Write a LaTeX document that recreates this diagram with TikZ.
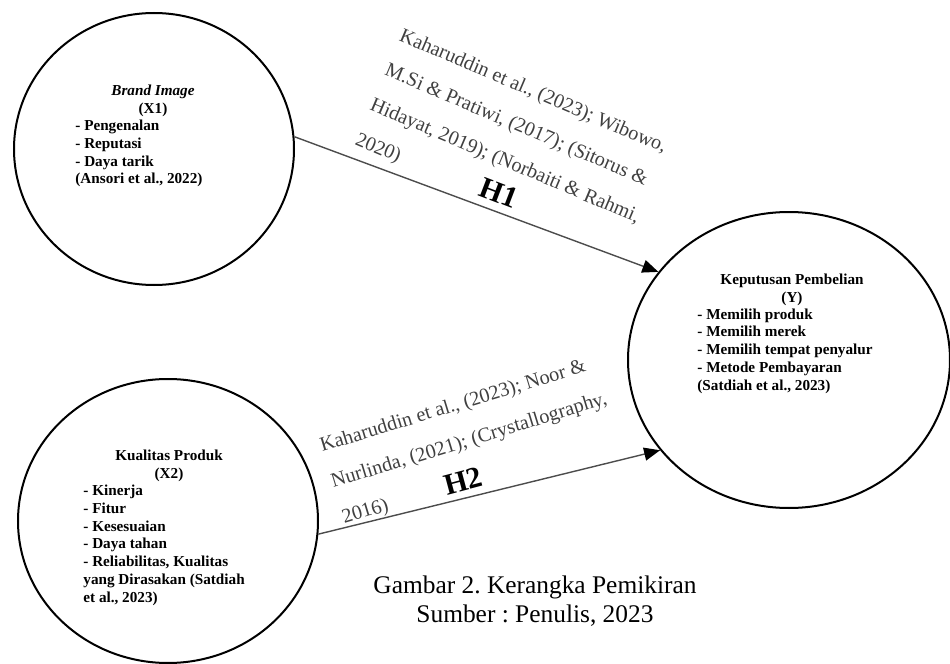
\documentclass[tikz,border=0pt]{standalone}
\usepackage{fontspec}
\setmainfont{Liberation Serif}
\usetikzlibrary{shapes.geometric, arrows.meta}
\frenchspacing

\begin{document}
\begin{tikzpicture}[x=0.5pt, y=-0.5pt,
    variabel/.style={draw, line width=1pt, ellipse, inner sep=0pt},
    isi/.style={font=\fontsize{7.6}{8.85}\selectfont\bfseries, inner sep=0pt},
    sitasi/.style={text=black!75, align=left, inner sep=0pt, anchor=base west, font=\fontsize{10.1}{18.8}\selectfont},
    hipotesis/.style={font=\fontsize{15}{18}\selectfont\bfseries, inner sep=0pt},
    panah/.style={draw=black!70, line width=0.7pt, -{Triangle[length=8pt, width=6.5pt, color=black]}}]

    \useasboundingbox (0,0) rectangle (950,664);

    % variabel
    \node (brand) [variabel, minimum width=140pt, minimum height=136pt] at (154,149) {};
    \node (kualitas) [variabel, minimum width=150pt, minimum height=142pt] at (168,521) {};
    \node (keputusan) [variabel, minimum width=161pt, minimum height=148pt] at (789,360) {};

    % isi lingkaran (base = baris terakhir)
    \node (brand-judul) [isi, align=center, anchor=base] at (153,113) {\textit{Brand Image}\\(X1)};
    \node (brand-isi) [isi, align=left, anchor=base west] at (75,184) {- Pengenalan\\- Reputasi\\- Daya tarik\\(Ansori et al., 2022)};
    \node (kualitas-judul) [isi, align=center, anchor=base] at (169,478) {Kualitas Produk\\(X2)};
    \node (kualitas-isi) [isi, align=left, anchor=base west] at (83,602) {- Kinerja\\- Fitur\\- Kesesuaian\\- Daya tahan\\- Reliabilitas, Kualitas\\yang Dirasakan (Satdiah\\et al., 2023)};
    \node (keputusan-judul) [isi, align=center, anchor=base] at (792,302) {Keputusan Pembelian\\(Y)};
    \node (keputusan-isi) [isi, align=left, anchor=base west] at (697,390) {- Memilih produk\\- Memilih merek\\- Memilih tempat penyalur\\- Metode Pembayaran\\(Satdiah et al., 2023)};

    % hipotesis
    \draw [panah] (brand.5) -- (keputusan.146);
    \draw [panah] (kualitas.-5) -- (keputusan.215);
    \node (sitasi1) [sitasi, rotate=-23] at (354,144) {Kaharuddin et al., (2023); Wibowo,\\M.Si \& Pratiwi, (2017); (Sitorus \&\\Hidayat, 2019); (Norbaiti \& Rahmi,\\2020)};
    \node (h1) [hipotesis, rotate=-21] at (499,193) {H1};
    \node (sitasi2) [sitasi, rotate=17] at (344,524) {Kaharuddin et al., (2023); Noor \&\\Nurlinda, (2021); (Crystallography,\\2016)};
    \node (h2) [hipotesis, rotate=15] at (463,481) {H2};

    \node (keterangan) [align=center, font=\fontsize{12.7}{14.5}\selectfont, anchor=base] at (535,622) {Gambar 2. Kerangka Pemikiran\\Sumber : Penulis, 2023};

\end{tikzpicture}
\end{document}
